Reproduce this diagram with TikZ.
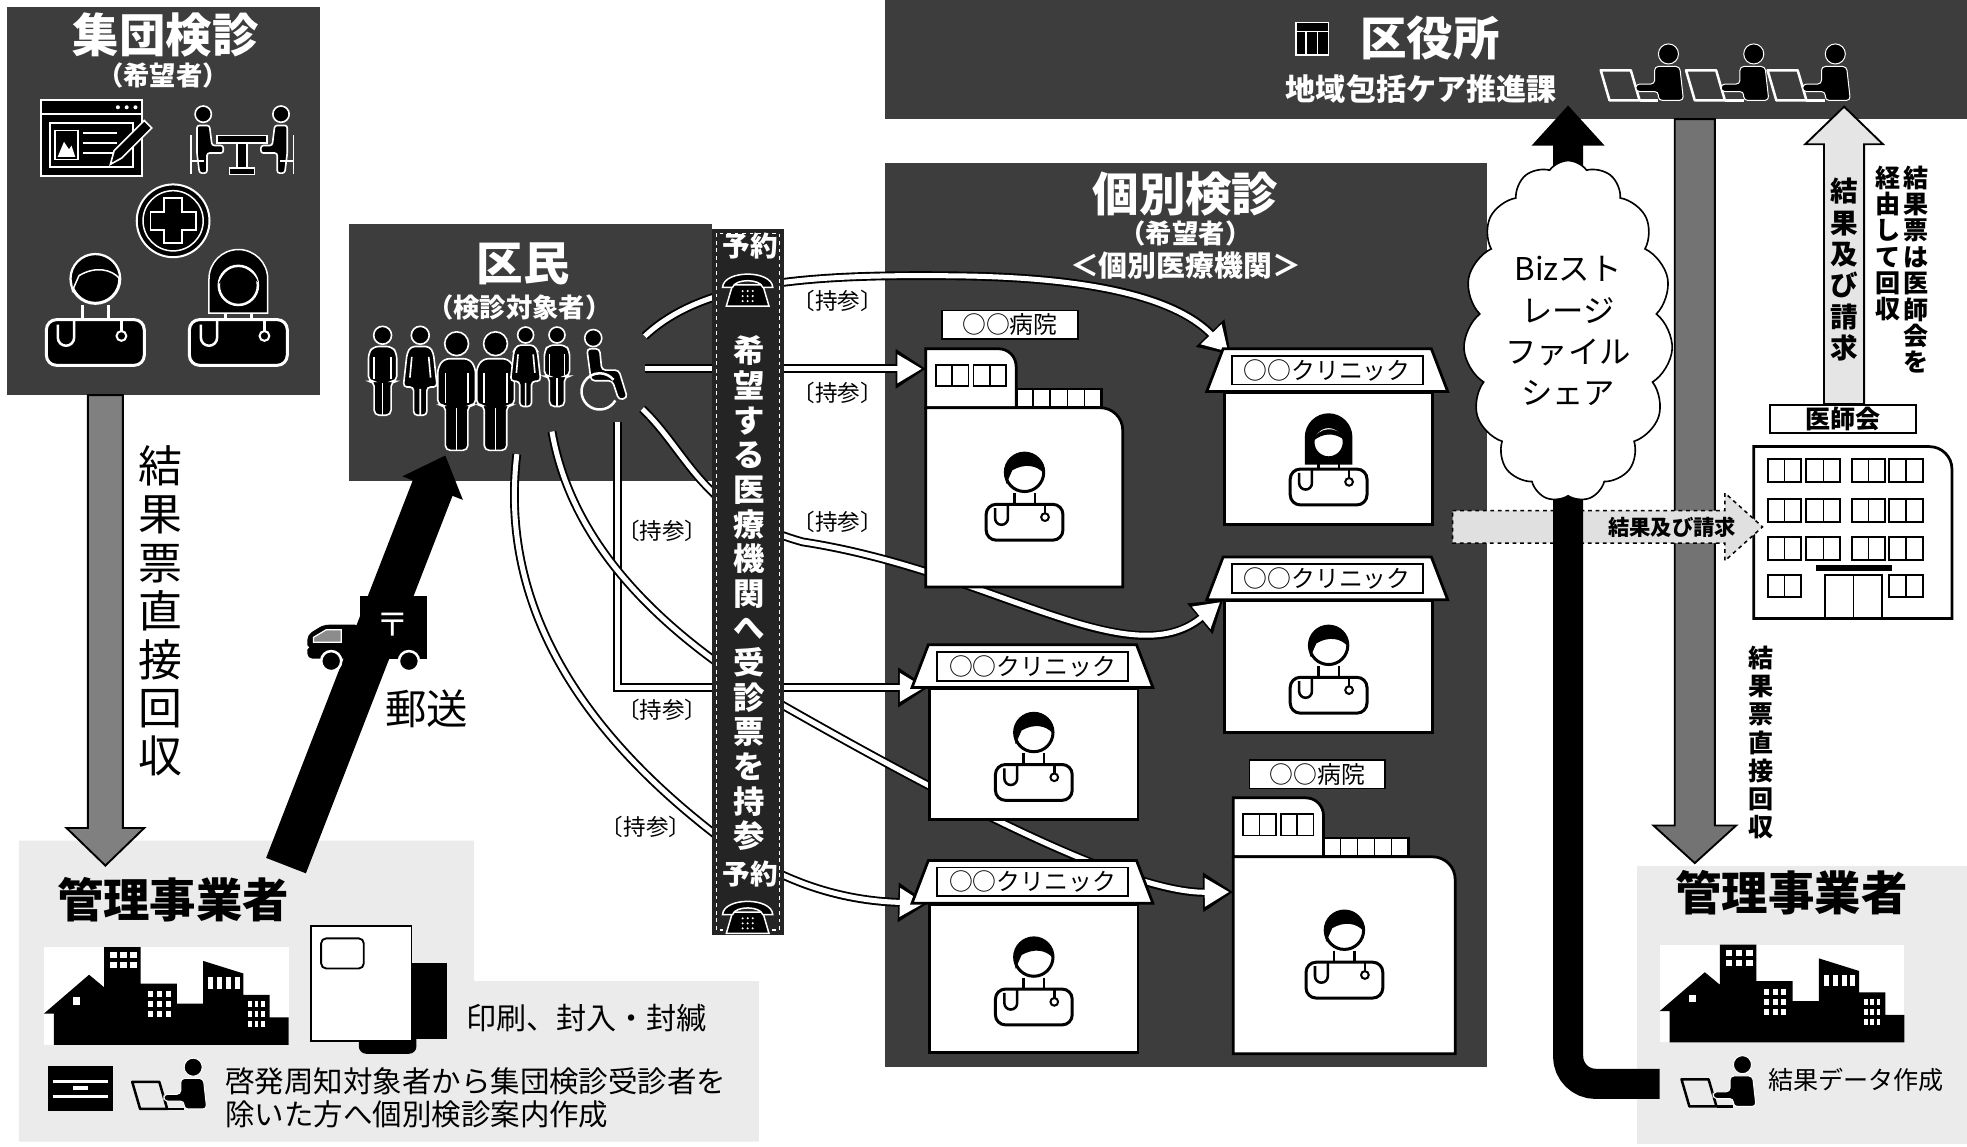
\documentclass[tikz,border=0pt]{standalone}
\usepackage{fontspec}
\setmainfont{Noto Sans CJK JP}
\usetikzlibrary{arrows.meta,calc,shapes.symbols}

\pgfdeclarelayer{back}
\pgfdeclarelayer{mid}
\pgfsetlayers{back,mid,main}

\tikzset{
  panel/.style={fill=black!76, inner sep=0pt},
  grain/.style={fill=black!8},
  hd/.style={text=white, font=\bfseries\fontsize{37}{40}\selectfont},
  sub/.style={text=white, font=\bfseries\fontsize{21}{24}\selectfont},
  tag/.style={draw, fill=white, line width=1.5pt, inner sep=1pt, minimum height=23pt, font=\fontsize{19}{20}\selectfont},
  house/.style={draw, fill=white, line width=2.2pt},
  carry/.style={white, line width=4pt, shorten >=3.2pt, -{Triangle[width=22pt,length=19.5pt]},
    preaction={draw=black, line width=7pt, shorten >=0pt, -{Triangle[width=30pt,length=24pt]}}},
  jisan/.style={font=\fontsize{18}{20}\selectfont},
  tate/.style={align=center, inner sep=0pt}
}

\newcommand{\blockarrow}[6][]{%
  \coordinate (ba-base) at ($(#3)!#6!(#2)$);
  \filldraw[#1] ($(#2)!#4!90:(#3)$) -- ($(ba-base)!#4!90:(#3)$) -- ($(ba-base)!#5!90:(#3)$) -- (#3)
    -- ($(ba-base)!#5!-90:(#3)$) -- ($(ba-base)!#4!-90:(#3)$) -- ($(#2)!#4!-90:(#3)$) -- cycle;}

\newcommand{\hairm}[2]{%
  \filldraw[fill=#2, draw=#1, line width=2.4pt] (0,-9) circle (15);
  \filldraw[fill=black, draw=#1, line width=1.2pt] (-15,-9) arc[start angle=180, end angle=360, radius=15]
    .. controls (10,-15) and (0,-17) .. (-10,-11) -- (-14,-2) -- cycle;}
\newcommand{\hairf}[2]{%
  \filldraw[fill=black, draw=#1, line width=1.2pt] (-18,12) -- (-18,-9) arc[start angle=180, end angle=360, radius=18] -- (18,12) -- cycle;
  \filldraw[fill=#2, draw=#1, line width=2pt] (0,-5) circle (12);
  \fill[black] (-12,-6) .. controls (-9,-17) and (8,-19) .. (12,-7) .. controls (4,-13) and (-5,-12) .. (-12,-6) -- cycle;}

\newcommand{\medic}[5]{%
  \begin{scope}[shift={(#1)}, scale=#2]
    \filldraw[fill=#4, draw=#3, line width=2.4pt, rounded corners=8pt] (-30,44) -- (-30,16) -- (30,16) -- (30,44) -- cycle;
    \draw[#3, line width=2pt] (-8,7) -- (-8,16) (8,7) -- (8,16);
    \draw[#3, line width=2pt] (-13,16) -- (-13,27) arc[start angle=0, end angle=180, radius=5] -- (-23,19);
    \draw[#3, line width=2pt] (16,16) -- (16,23);
    \draw[#3, line width=1.6pt] (16,26) circle (3);
    #5{#3}{#4}
  \end{scope}}

\newcommand{\folk}[2]{%
  \begin{scope}[shift={(#1)}, scale=#2]
    \filldraw[fill=black, draw=white, line width=1.3pt] (0,-85) circle (9.5);
    \filldraw[fill=black, draw=white, line width=1.3pt, rounded corners=4pt] (-15,-36) -- (-15,-66) -- (-10,-73) -- (10,-73)
      -- (15,-66) -- (15,-36) -- (9,-36) -- (9,0) -- (-9,0) -- (-9,-36) -- cycle;
    \draw[white, line width=1.3pt] (-9,-62) -- (-9,-38) (9,-62) -- (9,-38) (0,-34) -- (0,0);
  \end{scope}}
\newcommand{\lady}[2]{%
  \begin{scope}[shift={(#1)}, scale=#2]
    \filldraw[fill=black, draw=white, line width=1.3pt] (0,-85) circle (9.5);
    \filldraw[fill=black, draw=white, line width=1.3pt, rounded corners=3pt] (-14,-66) -- (-10,-73) -- (10,-73) -- (14,-66)
      -- (18,-30) -- (7,-30) -- (7,0) -- (-7,0) -- (-7,-30) -- (-18,-30) -- cycle;
    \draw[white, line width=1.3pt] (-9,-62) -- (-11,-40) (9,-62) -- (11,-40) (0,-28) -- (0,0);
  \end{scope}}
\newcommand{\wheelchair}[2]{%
  \begin{scope}[shift={(#1)}, scale=#2]
    \filldraw[fill=black, draw=white, line width=1.3pt] (-6,-50) circle (8);
    \filldraw[fill=black, draw=white, line width=1.3pt, rounded corners=3pt] (-12,-40) -- (0,-40) -- (2,-20) -- (18,-20)
      -- (26,6) -- (18,8) -- (12,-10) -- (-8,-10) -- cycle;
    \draw[white, line width=2pt] (0,0) ++(30:17) arc[start angle=30, end angle=320, radius=17];
  \end{scope}}

\newcommand{\phone}[1]{%
  \begin{scope}[shift={(#1)}]
    \filldraw[fill=black, draw=white, line width=1.2pt] (-12,-3) -- (12,-3) -- (17,14) -- (-17,14) -- cycle;
    \filldraw[fill=black, draw=white, line width=1.2pt] (-20,-1) .. controls (-19,-15) and (19,-15) .. (20,-1)
      -- (12,-1) .. controls (10,-8) and (-10,-8) .. (-12,-1) -- cycle;
    \foreach \i in {-4,0,4} \foreach \j in {2,6,10} \fill[white] (\i,\j) circle (0.9);
  \end{scope}}

\newcommand{\typist}[3]{%
  \begin{scope}[shift={(#1)}, scale=#2]
    \draw[#3, line width=2pt, line join=round] (-44,-24) -- (-20,-24) -- (-13,0) -- (-37,0) -- cycle;
    \draw[#3, line width=2pt] (-13,0) -- (2,0);
    \filldraw[fill=black, draw=white, line width=0.8pt] (10,-37) circle (8);
    \filldraw[fill=black, draw=white, line width=0.8pt, rounded corners=3pt] (-1,-27) -- (19,-27) -- (22,0) -- (2,0)
      -- (2,-7) -- (-16,-7) -- (-16,-13) -- (-1,-13) -- cycle;
  \end{scope}}

\newcommand{\town}[1]{%
  \begin{scope}[shift={(#1)}]
    \fill[white] (0,0) rectangle (195,78);
    \fill[black] (0,53) -- (36,22) -- (48,32) -- (48,0) -- (77,0) -- (77,29) -- (106,29) -- (106,45) -- (127,45) -- (127,11)
      -- (159,21) -- (159,38) -- (180,38) -- (180,56) -- (195,56) -- (195,78) -- (8,78) -- (8,53) -- cycle;
    \foreach \i in {0,1,2} \foreach \j in {0,1} \fill[white] (53+\i*8,4+\j*8) rectangle ++(5,5);
    \foreach \i in {0,1,2} \foreach \j in {0,1,2} \fill[white] (83+\i*7,35+\j*8) rectangle ++(4,5);
    \foreach \i in {0,1,2,3} \fill[white] (131+\i*7,24) rectangle ++(4,9);
    \foreach \i in {0,1,2} \foreach \j in {0,1,2} \fill[white] (163+\i*5,43+\j*8) rectangle ++(3,5);
    \fill[white] (23,40) rectangle ++(6,6);
  \end{scope}}

\newcommand{\clinic}[5]{%
  \node[house, anchor=north west, minimum width=166pt, minimum height=#4pt, inner sep=0pt] (#1) at (#2,#3) {};
  \filldraw[house] (#2-13,#3) -- (#2,#3-34) -- (#2+166,#3-34) -- (#2+179,#3) -- cycle;
  \node[tag, minimum width=152pt] (#1-tag) at (#2+83,#3-17) {○○クリニック};
  \medic{$(#1.center)+(0,-8)$}{1.02}{black}{white}{#5}}

\newcommand{\hospital}[5]{%
  \node[anchor=north west, minimum width=#4pt, minimum height=#5pt, inner sep=0pt] (#1) at (#2,#3) {};
  \filldraw[house] (#2,#3) -- (#2,#3-47) -- (#2+58,#3-47) arc[start angle=270, end angle=360, radius=14] -- (#2+72,#3) -- cycle;
  \foreach \k in {0,1} {
    \draw[line width=1.5pt] (#2+8+\k*30,#3-34) rectangle ++(26,17);
    \draw[line width=1.2pt] (#2+21+\k*30,#3-34) -- ++(0,17);
  }
  \filldraw[house] (#2+72,#3-15) rectangle (#2+140,#3);
  \foreach \k in {1,...,4} \draw[line width=1.2pt] (#2+72+\k*13.6,#3-15) -- ++(0,15);
  \filldraw[house] (#2,#3+#5) -- (#2,#3) -- (#2+#4-18,#3) arc[start angle=270, end angle=360, radius=18] -- (#2+#4,#3+#5) -- cycle;
  \node[tag, minimum width=108pt] (#1-tag) at (#2+67,#3-66) {○○病院};
  \medic{$(#1.center)+(0,-11)$}{1.02}{black}{white}{\hairm}}

\begin{document}
\begin{tikzpicture}[x=1pt, y=-1pt]
  \useasboundingbox (0,0) rectangle (1568,914);

  \begin{pgfonlayer}{back}
    \fill[white] (0,0) rectangle (1568,914);
    \node[panel, anchor=north west, minimum width=250pt, minimum height=310pt] (shudan) at (5,5) {};
    \node[panel, anchor=north west, minimum width=289pt, minimum height=205pt] (kumin) at (278,178) {};
    \node[panel, anchor=north west, minimum width=480pt, minimum height=720pt] (kobetsu) at (705,130) {};
    \node[panel, anchor=north west, minimum width=863pt, minimum height=95pt] (ward) at (705,0) {};
    \fill[grain] (15,670) -- (378,670) -- (378,782) -- (605,782) -- (605,910) -- (15,910) -- cycle;
    \fill[grain] (1305,690) rectangle (1568,912);
  \end{pgfonlayer}

  % group screening
  \node[hd] (shudan-title) at (132,28) {集団検診};
  \node[sub] (shudan-sub) at (130,60) {（希望者）};
  \filldraw[fill=black, draw=white, line width=1.5pt] (33,80) rectangle (113,140);
  \draw[white, line width=1.2pt] (33,91) -- (113,91);
  \foreach \d in {94,101,108} \fill[white] (\d,85.5) circle (1.6);
  \draw[white, line width=1.2pt] (40,98) rectangle (106,133);
  \draw[white, line width=1.2pt] (44,104) rectangle (62,127);
  \fill[white] (46,125) -- (51,113) -- (55,119) -- (57,116) -- (60,125) -- cycle;
  \foreach \yy in {106,114,122} \draw[white, line width=2pt] (66,\yy) -- (93,\yy);
  \filldraw[fill=black, draw=white, line width=1.3pt] (88,131) -- (91,120) -- (115,96) -- (121,102) -- (97,126) -- cycle;
  \filldraw[fill=black, draw=white, line width=1.3pt] (173,108) rectangle (213,114);
  \filldraw[fill=black, draw=white, line width=1.3pt] (189,114) rectangle (197,134);
  \filldraw[fill=black, draw=white, line width=1.3pt] (183,134) rectangle (203,139);
  \foreach \s in {1,-1} {
    \begin{scope}[shift={(193,0)}, xscale=\s]
      \filldraw[fill=black, draw=white, line width=1.3pt] (-31,91) circle (6.5);
      \filldraw[fill=black, draw=white, line width=1.3pt, rounded corners=2pt] (-36,100) -- (-26,100) -- (-24,116) -- (-15,116)
        -- (-15,122) -- (-28,122) -- (-28,138) -- (-34,138) -- (-36,122) -- cycle;
      \draw[white, line width=1.5pt] (-41,108) -- (-41,139) (-41,128) -- (-30,128);
    \end{scope}
  }
  \filldraw[fill=black, draw=white, line width=1.6pt] (138,176) circle (29);
  \draw[white, line width=1.2pt] (138,176) circle (24);
  \filldraw[fill=black, draw=white, line width=1.5pt] (131,158) -- (145,158) -- (145,169) -- (156,169) -- (156,183) -- (145,183)
    -- (145,194) -- (131,194) -- (131,183) -- (120,183) -- (120,169) -- (131,169) -- cycle;
  \medic{76,234}{1.3}{white}{black}{\hairm}
  \medic{190,234}{1.3}{white}{black}{\hairf}

  \coordinate (shudan-out) at (84,315);
  \coordinate (kanri-in) at (84,690);
  \blockarrow[fill=black!50, draw=black, line width=1.5pt]{shudan-out}{kanri-in}{14pt}{31pt}{30pt}
  \node[tate, font=\fontsize{35}{38.6}\selectfont] (direct-l) at (128,487) {結\\果\\票\\直\\接\\回\\収};

  % residents
  \node[hd] (kumin-title) at (417,210) {区民};
  \node[sub] (kumin-sub) at (414,245) {（検診対象者）};

  % contractor, left
  \node[font=\bfseries\fontsize{37}{40}\selectfont] (kanri) at (138,717) {管理事業者};
  \town{35,755}
  \fill[black] (318,768) rectangle (356,828);
  \fill[black, rounded corners=6pt] (286,822) rectangle (332,840);
  \filldraw[fill=white, draw=black, line width=1.5pt] (248,738) rectangle (328,830);
  \draw[line width=1.5pt, rounded corners=4pt] (256,748) rectangle (290,772);
  \node[anchor=west, font=\fontsize{24}{26}\selectfont] (insatsu) at (368,812) {印刷、封入・封緘};
  \fill[black] (38,850) rectangle (90,886);
  \draw[white, line width=2pt] (42,862) -- (86,862) (42,874) -- (86,874);
  \fill[white] (58,866) rectangle (70,869);
  \typist{145,884}{0.9}{black}
  \node[anchor=west, align=left, font=\fontsize{23.5}{26}\selectfont] (annai) at (176,875) {啓発周知対象者から集団検診受診者を\\除いた方へ個別検診案内作成};

  % mail
  \coordinate (post) at (228,690);
  \coordinate (kumin-in) at (355,363);
  \draw[line width=34pt, -{Triangle[width=50pt,length=28pt]}] (post) -- (kumin-in);
  \begin{scope}[shift={(290,508)}]
    \fill[black] (-3,-33) rectangle (50,17);
    \fill[black, rounded corners=4pt] (-45,17) -- (-45,-2) -- (-32,-10) -- (-3,-10) -- (-3,17) -- cycle;
    \filldraw[fill=black!45, draw=white, line width=1pt] (-40,0) -- (-30,-6) -- (-18,-6) -- (-18,4) -- (-40,4) -- cycle;
    \node[text=white, font=\fontsize{26}{26}\selectfont] (truck) at (23,-10) {〒};
    \filldraw[fill=black, draw=white, line width=2pt] (-26,19) circle (8);
    \filldraw[fill=black, draw=white, line width=2pt] (36,19) circle (8);
    \fill[white] (-45,8) circle (1.5);
  \end{scope}
  \node[font=\fontsize{33}{36}\selectfont] (yuso) at (340,565) {郵送};

  % individual screening
  \node[hd] (kobetsu-title) at (945,155) {個別検診};
  \node[sub] (kobetsu-sub) at (945,186) {（希望者）};
  \node[sub, font=\bfseries\fontsize{23}{25}\selectfont] (kobetsu-kikan) at (945,212) {＜個別医療機関＞};
  \hospital{h1}{738}{325}{157}{143}
  \clinic{c1}{975}{312}{105}{\hairf}
  \clinic{c2}{975}{478}{105}{\hairm}
  \clinic{c3}{740}{548}{104}{\hairm}
  \clinic{c4}{740}{720}{118}{\hairm}
  \hospital{h2}{983}{683}{177}{157}
  \coordinate (h2-door) at ($(h2.north west)+(0,28)$);

  \coordinate (k1) at (514,268);
  \coordinate (k2) at (514,294);
  \coordinate (k3) at (512,326);
  \coordinate (k4) at (492,336);
  \coordinate (k5) at (440,344);
  \coordinate (k6) at (412,362);
  \begin{pgfonlayer}{mid}
    \draw[carry] (k1) .. controls (560,225) and (640,218) .. (770,220) .. controls (880,222) and (940,240) .. (c1-tag.north west);
    \draw[carry] (k2) -- (k2 -| h1.west);
    \draw[carry] (k3) .. controls (548,360) and (560,410) .. (640,432) .. controls (790,455) and (900,540) .. (c2.north west);
    \draw[carry] (k4) |- (c3.north west);
    \draw[carry] (k5) .. controls (455,430) and (520,500) .. (620,560) .. controls (760,640) and (900,712) .. (h2-door);
    \draw[carry] (k6) .. controls (398,480) and (460,580) .. (570,665) .. controls (620,703) and (670,718) .. (c4.north west);
  \end{pgfonlayer}

  \folk{305,331}{0.75}
  \lady{335,331}{0.75}
  \folk{364,359}{1}
  \folk{395,359}{1}
  \lady{419,324}{0.67}
  \folk{444,324}{0.67}
  \wheelchair{478,312}{0.85}

  \node[jisan] (j1) at (668,240) {〔持参〕};
  \node[jisan] (j2) at (668,313) {〔持参〕};
  \node[jisan] (j3) at (528,423) {〔持参〕};
  \node[jisan] (j4) at (668,416) {〔持参〕};
  \node[jisan] (j5) at (528,566) {〔持参〕};
  \node[jisan] (j6) at (515,659) {〔持参〕};

  % booking strip
  \node[panel, fill=black!86, anchor=north west, minimum width=58pt, minimum height=563pt] (strip) at (567,182) {};
  \draw[white, dashed, line width=1pt] ($(strip.north west)+(4,4)$) rectangle ($(strip.south east)+(-4,-4)$);
  \node[text=white, font=\bfseries\fontsize{22}{24}\selectfont] (yoyaku1) at (598,196) {予約};
  \phone{596,230}
  \node[tate, text=white, font=\bfseries\fontsize{25}{27.6}\selectfont] (kibou) at (597,473) {希\\望\\す\\る\\医\\療\\機\\関\\へ\\受\\診\\票\\を\\持\\参};
  \node[text=white, font=\bfseries\fontsize{22}{24}\selectfont] (yoyaku2) at (598,697) {予約};
  \phone{596,730}

  % ward office
  \filldraw[fill=black, draw=white, line width=1.2pt] (1033,18) rectangle (1059,44);
  \draw[white, line width=1pt] (1033,25) -- (1059,25) (1041,25) -- (1041,44) (1050,25) -- (1050,44);
  \node[hd] (ward-title) at (1140,30) {区役所};
  \node[sub, font=\bfseries\fontsize{24}{26}\selectfont] (ward-sub) at (1133,71) {地域包括ケア推進課};
  \typist{1320,80}{1}{white}
  \typist{1388,80}{1}{white}
  \typist{1453,80}{1}{white}

  % contractor, right
  \node[font=\bfseries\fontsize{37}{40}\selectfont] (kanri2) at (1428,712) {管理事業者};
  \town{1323,753}
  \typist{1380,882}{0.9}{black}
  \node[anchor=west, font=\fontsize{20}{22}\selectfont] (data-txt) at (1406,861) {結果データ作成};

  \coordinate (ward-out) at (1351,95);
  \coordinate (kanri2-in) at (1351,688);
  \blockarrow[fill=black!55, draw=black, line width=1.5pt]{ward-out}{kanri2-in}{16pt}{33pt}{30pt}
  \node[tate, font=\bfseries\fontsize{20}{22.5}\selectfont] (direct-r) at (1404,592) {結\\果\\票\\直\\接\\回\\収};

  % medical association
  \node[tag, minimum width=116pt, font=\bfseries\fontsize{20}{22}\selectfont] (ishikai-tag) at (1469,334) {医師会};
  \node[anchor=north west, minimum width=158pt, minimum height=137pt, inner sep=0pt] (ishikai) at (1398,356) {};
  \filldraw[house] (1398,493) -- (1398,356) -- (1538,356) arc[start angle=270, end angle=360, radius=18] -- (1556,493) -- cycle;
  \foreach \c in {1409,1440,1476,1506} \foreach \r in {366,398,428} {
    \draw[line width=1.6pt] (\c,\r) rectangle ++(27,18);
    \draw[line width=1.2pt] (\c+13.5,\r) -- ++(0,18);
  }
  \foreach \c in {1409,1506} {
    \draw[line width=1.6pt] (\c,458) rectangle ++(27,18);
    \draw[line width=1.2pt] (\c+13.5,458) -- ++(0,18);
  }
  \fill (1448,450) rectangle (1508,455);
  \draw[line width=1.6pt] (1455,458) rectangle (1500,493);
  \draw[line width=1.2pt] (1477.5,458) -- (1477.5,493);

  \coordinate (ishikai-out) at (1470,322);
  \coordinate (ward-in) at (1470,85);
  \blockarrow[fill=black!10, draw=black, line width=1.5pt]{ishikai-out}{ward-in}{16pt}{31pt}{30pt}
  \node[tate, font=\bfseries\fontsize{22}{25}\selectfont] (seikyu-up) at (1470,215) {結\\果\\及\\び\\請\\求};
  \node[tate, anchor=north, font=\bfseries\fontsize{20}{21}\selectfont] (via1) at (1527,132) {結\\果\\票\\は\\医\\師\\会\\を};
  \node[tate, anchor=north, font=\bfseries\fontsize{20}{21}\selectfont] (via2) at (1505,132) {経\\由\\し\\て\\回\\収};

  \coordinate (kobetsu-out) at (1158,420);
  \coordinate (ishikai-in) at (1405,420);
  \blockarrow[fill=black!12, draw=black, line width=1.2pt, dashed]{kobetsu-out}{ishikai-in}{13pt}{27pt}{30pt}
  \node[font=\bfseries\fontsize{17}{18}\selectfont] (seikyu) at (1333,420) {結果及び請求};

  % storage upload
  \coordinate (data) at (1323,864);
  \coordinate (upload) at (1250,84);
  \draw[line width=24pt, rounded corners=22pt, -{Triangle[width=56pt,length=32pt]}] (data) -| (upload);
  \node[cloud, cloud puffs=15, cloud puff arc=110, cloud ignores aspect, draw, fill=white, line width=1.3pt,
    minimum width=160pt, minimum height=272pt, align=center, font=\fontsize{25}{33}\selectfont] (biz) at (1250,264)
    {Bizスト\\レージ\\ファイル\\シェア};
\end{tikzpicture}
\end{document}
